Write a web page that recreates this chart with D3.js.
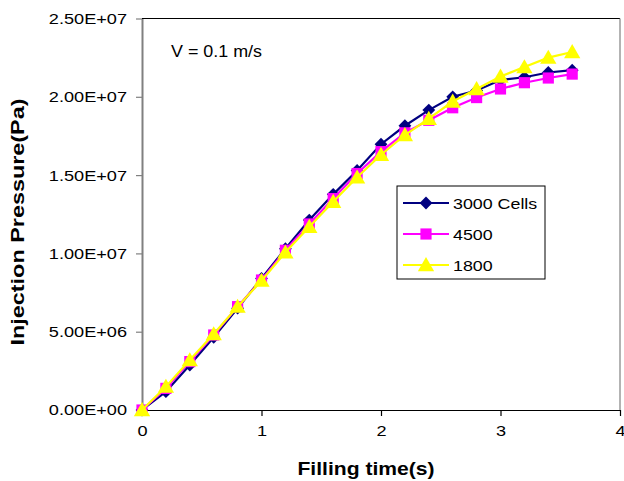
<!DOCTYPE html>
<html><head><meta charset="utf-8">
<script src="https://cdn.jsdelivr.net/npm/d3@7"></script>
<style>body{margin:0;background:#fff;} text{font-family:"Liberation Sans",Arial,sans-serif;}</style>
</head><body><svg id="c" width="624" height="481"></svg>
<script>
const times = [0,0.2,0.4,0.6,0.8,1.0,1.2,1.4,1.6,1.8,2.0,2.2,2.4,2.6,2.8,3.0,3.2,3.4,3.6];
const cells3000 = [0,1.17e6,2.87e6,4.64e6,6.5e6,8.4e6,10.3e6,12.13e6,13.77e6,15.3e6,16.97e6,18.15e6,19.15e6,20.0e6,20.4e6,21.07e6,21.25e6,21.55e6,21.7e6];
const cells4500 = [0,1.38e6,3.09e6,4.79e6,6.6e6,8.3e6,10.2e6,11.88e6,13.5e6,15.1e6,16.5e6,17.7e6,18.5e6,19.3e6,19.95e6,20.5e6,20.9e6,21.2e6,21.45e6];
const cells1800 = [0,1.49e6,3.19e6,4.85e6,6.6e6,8.26e6,10.07e6,11.7e6,13.3e6,14.86e6,16.3e6,17.56e6,18.6e6,19.7e6,20.5e6,21.3e6,21.9e6,22.5e6,22.86e6];
const seriesNames = ["3000 Cells","4500","1800"];
const yTicks = [0,5e6,1e7,1.5e7,2e7,2.5e7];
const yTickLabels = ["0.00E+00","5.00E+06","1.00E+07","1.50E+07","2.00E+07","2.50E+07"];
const xTicks = [0,1,2,3,4];

const svg = d3.select("#c");
const L=142, R=620, T=18.5, B=410;
const x = d3.scaleLinear().domain([0,4]).range([L,R]);
const y = d3.scaleLinear().domain([0,2.5e7]).range([B,T]);

function stretch(sel,k){ sel.each(function(){ const w=this.getComputedTextLength(); d3.select(this).attr("textLength",w*k).attr("lengthAdjust","spacingAndGlyphs"); }); }

// frame
svg.append("line").attr("x1",L).attr("x2",R).attr("y1",T).attr("y2",T).attr("stroke","#000").attr("stroke-width",1.2);
svg.append("line").attr("x1",R).attr("x2",R).attr("y1",T).attr("y2",B).attr("stroke","#808080").attr("stroke-width",1.2);

// y axis
const ya = svg.append("g").attr("transform",`translate(${L},0)`)
  .call(d3.axisLeft(y).tickValues(yTicks).tickFormat((d,i)=>yTickLabels[i]).tickSize(6).tickSizeOuter(0).tickPadding(9));
ya.select(".domain").attr("stroke","#808080").attr("stroke-width",2);
ya.selectAll(".tick line").attr("stroke","#808080").attr("stroke-width",1.2);
ya.selectAll("text").attr("font-size",15.5).attr("fill","#000").style("font-family","Liberation Sans, Arial").call(stretch,1.17);

// x axis
const xa = svg.append("g").attr("transform",`translate(0,${B})`)
  .call(d3.axisBottom(x).tickValues(xTicks).tickFormat(d3.format("d")).tickSize(6).tickSizeOuter(0).tickPadding(9));
xa.select(".domain").attr("stroke","#000").attr("stroke-width",1.2);
xa.selectAll(".tick line").attr("stroke","#000").attr("stroke-width",1.2);
xa.selectAll("text").attr("font-size",15.5).attr("fill","#000").style("font-family","Liberation Sans, Arial").call(stretch,1.17);

// titles
svg.append("text").attr("x",366).attr("y",475).attr("text-anchor","middle").attr("font-size",18.5).attr("font-weight","bold")
  .attr("textLength",137).attr("lengthAdjust","spacingAndGlyphs").text("Filling time(s)");
svg.append("text").attr("transform","translate(24,222) rotate(-90)").attr("text-anchor","middle").attr("font-size",18.5).attr("font-weight","bold")
  .attr("textLength",247).attr("lengthAdjust","spacingAndGlyphs").text("Injection Pressure(Pa)");
svg.append("text").attr("x",171).attr("y",57).attr("font-size",16).attr("textLength",91).attr("lengthAdjust","spacingAndGlyphs").text("V = 0.1 m/s");

const colors = ["#000080","#FF00FF","#FFFF00"];
const symbols = [d3.symbolSquare, d3.symbolSquare, d3.symbolTriangle];
const sizes = [82, 125, 115];
const rots = [45, 0, 0];
const dy = [0, 0, 1.5];
const data = [cells3000, cells4500, cells1800];
const line = d3.line().x((d,i)=>x(times[i])).y(d=>y(d));

data.forEach((vals,si)=>{
  svg.append("path").datum(vals).attr("d",line).attr("fill","none").attr("stroke",colors[si]).attr("stroke-width",2.2);
  svg.selectAll(".m"+si).data(vals).enter().append("path")
    .attr("d",d3.symbol().type(symbols[si]).size(sizes[si]))
    .attr("transform",(d,i)=>`translate(${x(times[i])},${y(d)+dy[si]}) rotate(${rots[si]})`)
    .attr("fill",colors[si]);
});

// legend
const lg = svg.append("g");
lg.append("rect").attr("x",397).attr("y",186).attr("width",148).attr("height",93).attr("fill","#fff").attr("stroke","#000").attr("stroke-width",1);
const rowY=[203,234,265];
seriesNames.forEach((n,i)=>{
  lg.append("line").attr("x1",403).attr("x2",449).attr("y1",rowY[i]).attr("y2",rowY[i]).attr("stroke",colors[i]).attr("stroke-width",2.2);
  lg.append("path").attr("d",d3.symbol().type(symbols[i]).size(sizes[i])).attr("transform",`translate(426,${rowY[i]+dy[i]}) rotate(${rots[i]})`).attr("fill",colors[i]);
  lg.append("text").attr("x",453).attr("y",rowY[i]+6).attr("font-size",15.5).text(n).call(stretch,1.15);
});
</script></body></html>
